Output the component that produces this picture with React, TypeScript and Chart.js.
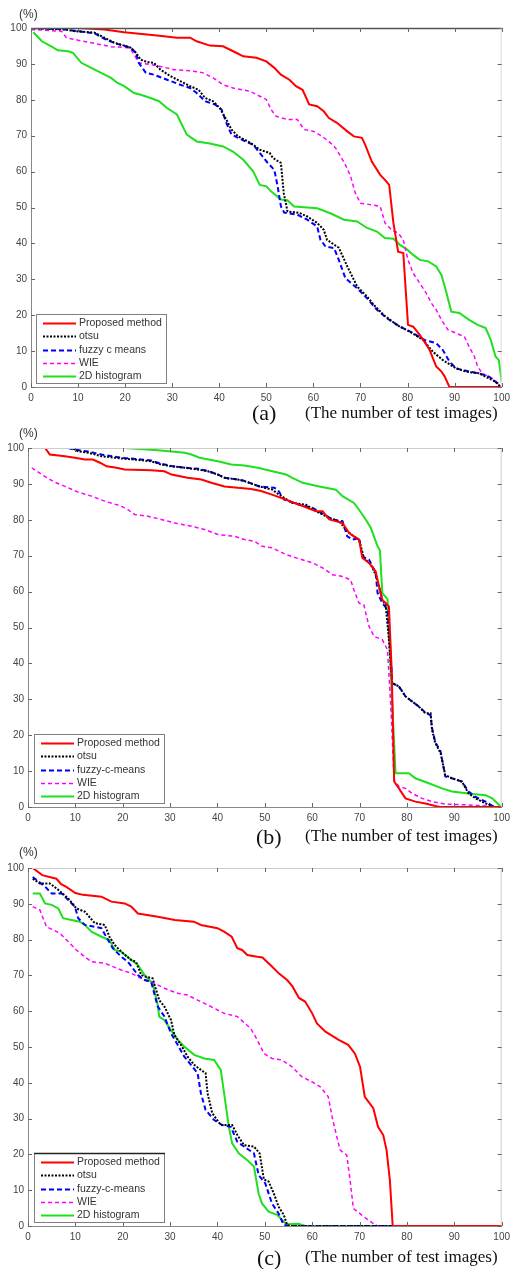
import React, { useEffect, useRef } from 'react';
import { Chart, registerables } from 'chart.js';

Chart.register(...registerables);

type Pt = [number, number];

// ---------- tick values & labels ----------
const xTickValues = [0, 10, 20, 30, 40, 50, 60, 70, 80, 90, 100];
const yTickValues = [0, 10, 20, 30, 40, 50, 60, 70, 80, 90, 100];
const legendLabelsA = ['Proposed method', 'otsu', 'fuzzy c means', 'WIE', '2D histogram'];
const legendLabelsBC = ['Proposed method', 'otsu', 'fuzzy-c-means', 'WIE', '2D histogram'];
const panelTags = ['(a)', '(b)', '(c)'];
const unitLabel = '(%)';
const xCaption = '(The number of test images)';

// ---------- panel (a) ----------
const aProposed: Pt[] = [[0,100],[10,100],[15.6,99.6],[19.8,98.8],[26.8,97.9],[31,97.3],[33.8,97.3],[35.2,96.3],[38,95.1],[40.8,94.9],[43.6,93.1],[45.1,92.1],[47.9,91.7],[50,90.7],[51.7,88.9],[53.1,87],[54.9,85.6],[56.3,83.8],[57.7,82.8],[59.1,78.7],[60.8,78.2],[62.2,76.8],[63.3,74.9],[65,73.6],[67.2,71.2],[68.6,69.8],[70.3,69.4],[71,67.5],[72.4,62.8],[74.2,59.1],[75.2,57.7],[76.1,56.3],[77,45.7],[78,37.7],[79.1,37.3],[80.1,17.3],[81.2,16.8],[82.6,14.5],[83.6,12.6],[84.7,10.3],[86.1,5.7],[87.2,4.3],[87.9,2.9],[88.9,0],[100,0]];
const aOtsu: Pt[] = [[0,100],[7.2,99.6],[9.3,99.1],[13.5,98.7],[15.6,97.3],[17.7,95.9],[19.8,95.1],[21.2,94.5],[22.3,93.1],[23.3,91.2],[24.7,90.5],[26.1,90.3],[27.5,88.4],[29.6,86.6],[31.7,85.2],[33.8,83.8],[35.6,82.8],[37,80.5],[38.7,79.6],[40.1,77.7],[41.5,74.5],[42.6,71.7],[44,69.8],[45.4,68.9],[47.2,67.5],[48.6,66.1],[50.7,65.2],[51.4,63.8],[53.1,62.4],[53.7,54],[54.5,48.9],[57,48.5],[58.7,47.5],[60.8,45.7],[62.2,43.8],[62.9,41],[65,39.1],[65.4,38.8],[67.2,33.6],[69.3,28],[71.4,25.2],[72.8,22.9],[74.9,20.1],[77.7,17.3],[80.5,15.4],[83.3,13.1],[85.4,9.8],[87.5,7.5],[90.3,5.2],[92.4,4.3],[95.2,3.8],[97.3,2.4],[98.7,1.5],[99.8,0]];
const aFuzzy: Pt[] = [[0,100],[7.2,99.6],[10,99.1],[13.5,98.5],[15.9,96.8],[18,95.7],[21.2,94.5],[22.3,93.1],[22.9,90.3],[24.4,87.5],[26.1,87],[28.9,85.6],[31.7,84.2],[33.8,83.3],[35.2,81.9],[37,79.6],[39.1,78.7],[40.5,77.3],[41.5,73.6],[42.6,70.3],[44,69.4],[45.4,68.5],[47.2,67.5],[48.6,65.2],[50.3,62.4],[51.7,60.5],[52.4,55.9],[53.1,50.3],[53.8,48.6],[56.6,48],[58.7,46.6],[60.8,44.7],[61.5,41],[62.6,39.1],[64.4,38.7],[65.4,35.4],[66.8,30.3],[69.3,27.5],[71.4,24.7],[73.5,21.5],[75.6,19.2],[78.4,16.8],[81.2,15],[83.6,13.1],[86.1,12.2],[87.5,10.3],[88.9,7.1],[90.3,5.2],[93.1,4.3],[95.2,3.8],[97.3,2.9],[99.1,1],[99.8,0]];
const aWIE: Pt[] = [[0,99.6],[6.5,99.1],[7.5,97.3],[10,96.6],[13.5,95.7],[17,94.8],[20.5,94.5],[21.5,93.5],[22.9,90.3],[25.4,89.8],[27.5,89.3],[30.3,88.4],[33.8,88.1],[36.6,87.5],[38.7,86.1],[40.8,84.2],[42.9,83.3],[46.5,82.4],[48.6,81],[50,80.1],[51,77.3],[52.1,75.4],[54.5,74.5],[56.6,74.5],[58,71.7],[60.1,71.2],[61.9,69.8],[63.6,68],[64.7,66.6],[65.8,64.2],[66.8,61.9],[67.9,58.7],[68.9,54],[70,51.2],[72.1,50.8],[74.2,50.3],[75.2,45.7],[76.6,43.8],[78,42.9],[79.1,41],[80.1,35.4],[81.2,31.7],[82.6,28.9],[84,26.1],[85.1,23.3],[86.1,21.5],[87.2,18.7],[88.6,15.9],[90.3,15],[92.1,14],[93.1,11.2],[94.2,8.5],[94.9,5.7],[95.9,3.8],[98,2.4],[99.8,0.5]];
const aHist: Pt[] = [[0.5,98.8],[2.3,96.3],[4.4,94.8],[5.7,93.8],[7.9,93.5],[8.9,93.1],[10.7,90.3],[12.8,88.9],[14.9,87.5],[17,86.1],[18.4,84.7],[19.8,83.8],[21.9,81.9],[23.3,81.4],[25.4,80.5],[27.2,79.6],[28.9,77.7],[31,75.9],[33.1,70.3],[35.2,68.4],[38,67.8],[40.8,67],[42.9,65.6],[45.1,63.3],[47.2,60.1],[48.6,56.3],[50,55.9],[51,54.5],[53.1,52.2],[54.5,52],[55.9,50.3],[58.7,50],[60.8,49.8],[63.6,48.4],[66.5,46.6],[69.3,46.1],[71.4,44.3],[73.5,43.3],[75.2,41.5],[77,41.3],[78.4,39.6],[79.8,38.4],[81.2,36.8],[82.6,35.4],[84.4,35],[86.1,33.6],[87.2,31.2],[88.2,26.6],[89.3,21],[91,20.6],[93.1,18.7],[94.9,17.3],[96.6,16.4],[97.7,13.1],[98.7,8.5],[99.4,7.5],[100,1.5]];

// ---------- panel (b) ----------
const bProposed: Pt[] = [[0,100],[3.6,100],[4.6,98.2],[7.8,97.7],[9.9,97.3],[12,96.8],[13.7,96.8],[15.2,95.9],[16.6,94.9],[18.7,94.5],[20.4,94],[26,93.8],[28.8,93.5],[30.3,92.6],[33.7,91.7],[36.6,91.2],[38.7,90.3],[41.5,89.3],[44.3,88.9],[47.1,88.6],[49.2,88],[51.5,87],[54.5,85.6],[58,83.8],[60.8,82.4],[62.2,82.4],[63.6,80.1],[66.4,79.1],[67.8,76.3],[68.8,75.4],[69.9,74.5],[70.6,69.4],[72,68],[73.4,65.6],[74.1,61.5],[74.8,57.7],[75.5,56.8],[76.2,55.9],[76.8,37.3],[77.3,7.1],[78.3,5.2],[79.7,2.4],[81.8,1.5],[83.9,1],[86,0.3],[87,0],[100,0]];
const bOtsu: Pt[] = [[0,100],[9.2,100],[10.6,99.1],[12.7,98.7],[15.5,97.7],[18.3,97.3],[20.4,97],[23.9,96.6],[26,96.3],[28.1,95.4],[30.3,94.9],[33.1,94.5],[35.9,94],[38,93.5],[40.1,92.6],[41.5,91.7],[44.3,91.2],[45.6,90.8],[47.8,89.8],[49.9,88.9],[51.6,88.4],[53,87],[55.8,84.7],[58.7,84.2],[60.8,82.4],[63.6,80.5],[65.7,79.6],[67.4,76.8],[68.8,75.4],[69.9,74.5],[70.9,69.4],[72.4,67.5],[73.4,64.7],[74.1,61.5],[74.8,57.7],[75.5,56.3],[76.2,46.6],[76.9,34.5],[78.3,33.6],[79.7,30.8],[81.1,29.4],[82.5,28],[83.9,26.1],[85,26.1],[85.3,21.5],[86,17.8],[87.1,15],[88.1,8.9],[89.5,8],[91.6,7.1],[93,3.8],[94.5,2.4],[96.6,1],[98,0.3],[98.5,0],[100,0]];
const bFuzzy: Pt[] = [[0,100],[8.5,100],[10,99.5],[12.7,99],[15.5,98.2],[18.3,97.6],[20.4,97.2],[23.9,96.8],[26,96.5],[28.1,95.6],[30.3,95],[33.1,94.5],[35.9,94.2],[38,93.6],[40.1,92.6],[41.5,91.7],[44.3,91.2],[45.6,90.9],[47.8,89.8],[48.8,89.3],[52,88.9],[52.7,88.4],[54.1,85.6],[57.3,84.2],[60.1,83.3],[64.3,80.1],[66.4,79.6],[67.4,75.4],[68.5,74.5],[69.9,74.9],[70.6,69.8],[72,68.9],[73.4,65.2],[73.8,59.6],[74.8,56.8],[75.9,55],[76.6,41.9],[76.9,34.5],[78.3,33.6],[79.7,30.8],[81.1,29.4],[82.5,28],[83.9,26.3],[85,25.5],[85.3,22],[86,18],[87.1,15.5],[88.1,8.5],[89.5,8],[91.6,7.1],[93,4.3],[94.5,2.8],[96.6,1.5],[98,0.3],[98.5,0],[100,0]];
const bWIE: Pt[] = [[0.8,94.5],[2.9,92.6],[5.3,90.7],[7.8,89.3],[10.6,87.7],[13.4,86.6],[16.2,85.2],[19.7,83.8],[21.1,82.8],[22.5,81.5],[25.3,81],[28.1,80.1],[31,79.1],[34.5,78.2],[37.3,77.3],[40.1,75.9],[43.6,75.4],[45.7,74.5],[47.8,74],[49.5,72.6],[51.5,72.2],[54.5,70.3],[56.6,69.4],[60.1,68],[62.2,66.6],[64.3,64.7],[66.4,64.2],[68.1,63.3],[68.8,60.5],[69.9,56.8],[70.9,56.3],[72,50.3],[73.1,47.5],[74.8,46.6],[75.9,43.8],[76.6,28],[77.3,7.5],[78.3,5.7],[79.7,5.2],[81.1,3.8],[83.2,2.4],[85.3,1.5],[88.1,0.8],[92.4,0.6],[96.6,0.3],[98,0],[100,0]];
const bHist: Pt[] = [[0,100],[20.4,100],[27.4,99.4],[33.1,98.7],[34.5,98.2],[36.2,97.3],[40.1,96.3],[42.9,95.4],[45.7,95.1],[48.5,94.5],[51.6,93.5],[54.5,92.6],[55.8,91.7],[58,90.3],[61.5,89.3],[65,88.4],[66.4,86.6],[68.8,84.7],[69.9,82.8],[71.3,80.1],[72.4,77.7],[73.8,72.6],[74.3,71.5],[74.8,59.6],[75.9,57.9],[76.6,37],[77.6,9.4],[80.4,9.4],[81.8,8],[84.6,6.6],[87.4,5.2],[89.5,4.3],[93.8,3.6],[96.6,3.3],[98,2.4],[99.7,0.3]];

// ---------- panel (c) ----------
const cProposed: Pt[] = [[1,100],[3,98],[6,97],[7,95.5],[8,94.8],[10,93],[11.6,92.5],[15.5,92],[17.6,90.6],[20.4,90.1],[21.8,89.2],[23.2,87.3],[27.4,86.4],[31,85.5],[35,85],[36.5,84.1],[40,83.2],[41.4,82.2],[43,80.8],[44.2,77.6],[45.2,77.1],[46.3,75.7],[48.4,75.2],[49.5,75],[51.5,72.5],[53,70.5],[54.7,68.7],[55.8,67],[57.2,63.7],[58.5,62.7],[60,59.4],[61,56.6],[62.8,54.3],[65.6,52],[67.6,50.6],[69,48.2],[70.1,44.5],[71.1,36.1],[72.9,32.9],[73.9,27.7],[75,25.4],[75.7,21.2],[76.4,12.8],[77,0],[100,0]];
const cOtsu: Pt[] = [[1,97],[2.5,95.7],[4.6,95.7],[6.4,93.9],[8.5,91.5],[10.2,88.7],[12,87.8],[14.1,84.6],[16.2,84.1],[17.2,80.8],[18.3,78.5],[19.7,76.6],[21.8,74.3],[22.8,73.8],[23.9,70.1],[24.9,69.6],[26.3,69.2],[27.7,63.1],[28.8,61.3],[30.2,57.5],[30.9,53.4],[32.3,50.6],[33.7,47.3],[35.1,45],[36.5,43.6],[37.5,42.7],[37.9,37.1],[38.9,31.5],[40.7,28.2],[43.1,28.2],[44.2,25.4],[45.6,22.6],[47.7,22.2],[48.9,20.3],[49.8,13],[50.8,12.4],[51.9,9.1],[52.9,5.4],[54,3.1],[54.7,0.3],[55.5,0],[100,0]];
const cFuzzy: Pt[] = [[1,97.5],[3.6,94.8],[5,92.9],[7.1,92.9],[9.9,89.2],[10.6,86],[12,84.1],[15.5,83.2],[16.5,80.8],[17.9,77.6],[19.7,75.2],[21.1,73.8],[23.2,70.1],[24.6,68.7],[26,68.2],[27.4,61.3],[28.8,58.5],[30.2,53.8],[31.6,50.6],[33,47.3],[34.4,45],[35.8,42.7],[36.5,37.1],[37.5,32.4],[39.3,29.6],[41,28.2],[42.8,27.7],[44.2,23.5],[45.6,22.2],[47.7,20.3],[48.7,14.2],[50.1,11.9],[51.5,6.3],[52.9,3.5],[54,0.3],[55,0],[100,0]];
const cWIE: Pt[] = [[1,89.2],[2.5,88.3],[3.9,83.6],[5.3,82.7],[6.7,81.8],[8.5,79.4],[10.2,77.1],[12,75.2],[13.4,73.8],[16.2,73.4],[19.7,71.5],[21.8,70.6],[23.9,69.2],[26,68.2],[28.8,66.4],[31.6,65],[33.7,64.5],[35.8,63.1],[38.6,61.3],[41.4,59.4],[44.2,58.5],[47,55.2],[48.4,52],[49.8,48.2],[51.5,46.8],[53.6,46.4],[55.7,44.5],[57.8,41.7],[59.9,40.3],[61.7,38.9],[63.4,36.1],[64.2,30.5],[65.2,24.9],[65.9,21.2],[67.3,19.8],[68,12.8],[68.7,4.9],[70.4,3.1],[71.8,1.7],[73.3,0.3],[74,0],[100,0]];
const cHist: Pt[] = [[1,92.9],[2.5,92.9],[3.6,90.1],[5,89.7],[6.4,88.7],[7.4,86],[9.2,85.5],[10.9,85],[12,84.1],[13.4,82.2],[15.5,80.8],[17.2,79.9],[18.3,77.1],[19.7,76.6],[21.8,74.3],[23.2,72.9],[24.6,70.1],[26.3,67.8],[27.4,61.7],[27.7,58.5],[28.8,57.5],[30.2,54.7],[31.6,52],[33,50.1],[35.1,47.8],[37.2,46.8],[39.3,46.4],[40.7,43.6],[41.4,37.1],[42.4,27.7],[43.1,23.1],[44.5,20.3],[46.3,18.4],[47.7,16.6],[48.7,9],[49.4,6.3],[50.8,4],[52.6,3.1],[54,1.2],[54.7,0.5],[57.1,0.6],[58.5,0],[100,0]];

// ---------- styles (separate from data) ----------
const seriesStyles = [
  { color: '#ff0000', dash: [] as number[], width: 2 },
  { color: '#000000', dash: [2, 1.5], width: 2 },
  { color: '#0000ff', dash: [5, 3], width: 2 },
  { color: '#ff00ff', dash: [4, 3], width: 1.5 },
  { color: '#1fe01f', dash: [] as number[], width: 2 },
];

const SANS = '"Liberation Sans", Arial, Helvetica, sans-serif';
const SERIF = '"Liberation Serif", "Times New Roman", serif';

const framePlugin = {
  id: 'frame',
  afterDraw(chart: any, _args: any, opts: any) {
    const { ctx, chartArea } = chart;
    const { left, right, top, bottom } = chartArea;
    const xs = chart.scales.x;
    const ys = chart.scales.y;
    ctx.save();
    ctx.setLineDash([]);
    ctx.strokeStyle = opts.topColor;
    ctx.lineWidth = opts.topWidth;
    ctx.beginPath();
    ctx.moveTo(left, top + 0.5);
    ctx.lineTo(right, top + 0.5);
    ctx.stroke();
    ctx.lineWidth = 1;
    ctx.strokeStyle = opts.rightColor;
    ctx.beginPath();
    ctx.moveTo(right - 0.5, top);
    ctx.lineTo(right - 0.5, bottom);
    ctx.stroke();
    // inward ticks
    ctx.strokeStyle = '#666';
    ctx.beginPath();
    for (const v of xTickValues) {
      const px = Math.round(xs.getPixelForValue(v)) + 0.5;
      ctx.moveTo(px, bottom);
      ctx.lineTo(px, bottom - 4);
      ctx.moveTo(px, top);
      ctx.lineTo(px, top + 4);
    }
    for (const v of yTickValues) {
      const py = Math.round(ys.getPixelForValue(v)) + 0.5;
      ctx.moveTo(left, py);
      ctx.lineTo(left + 4, py);
      ctx.moveTo(right, py);
      ctx.lineTo(right - 4, py);
    }
    ctx.stroke();
    // legend box
    const lw = 130;
    const lh = 69;
    const lx = left + opts.legendDx;
    const ly = bottom - 4 - lh;
    ctx.fillStyle = '#ffffff';
    ctx.fillRect(lx, ly, lw, lh);
    ctx.strokeStyle = '#808080';
    ctx.lineWidth = 1;
    ctx.strokeRect(lx + 0.5, ly + 0.5, lw, lh);
    if (opts.legendTopDark) {
      ctx.strokeStyle = '#222';
      ctx.lineWidth = 1.5;
      ctx.beginPath();
      ctx.moveTo(lx, ly + 0.5);
      ctx.lineTo(lx + lw + 1, ly + 0.5);
      ctx.stroke();
    }
    ctx.font = `10.5px ${SANS}`;
    ctx.textBaseline = 'middle';
    ctx.textAlign = 'left';
    chart.data.datasets.forEach((ds: any, i: number) => {
      const cy = Math.round(ly + 9 + i * 13.3) + 0.5;
      ctx.setLineDash(ds.borderDash || []);
      ctx.strokeStyle = ds.borderColor;
      ctx.lineWidth = ds.borderWidth;
      ctx.beginPath();
      ctx.moveTo(lx + 7, cy);
      ctx.lineTo(lx + 40, cy);
      ctx.stroke();
      ctx.setLineDash([]);
      ctx.fillStyle = '#333';
      ctx.fillText(ds.label, lx + 43, cy);
    });
    ctx.restore();
  },
};

type PanelCfg = {
  top: number;
  height: number;
  area: { left: number; top: number; right: number; bottom: number };
  series: Pt[][];
  labels: string[];
  tag: string;
  tagLeft: number;
  tagCy: number;
  capCy: number;
  unitCy: number;
  topColor: string;
  topWidth: number;
  rightColor: string;
  legendDx: number;
  legendTopDark: boolean;
};

const WIDTH = 515;

const panels: PanelCfg[] = [
  {
    top: 0, height: 420,
    area: { left: 31, top: 28, right: 506, bottom: 387 },
    series: [aProposed, aOtsu, aFuzzy, aWIE, aHist],
    labels: legendLabelsA, tag: panelTags[0], tagLeft: 252, tagCy: 413, capCy: 413, unitCy: 14,
    topColor: '#555', topWidth: 1.5, rightColor: '#ddd', legendDx: 5, legendTopDark: false,
  },
  {
    top: 420, height: 420,
    area: { left: 28, top: 28, right: 503, bottom: 387 },
    series: [bProposed, bOtsu, bFuzzy, bWIE, bHist],
    labels: legendLabelsBC, tag: panelTags[1], tagLeft: 256, tagCy: 417, capCy: 416, unitCy: 13,
    topColor: '#ccc', topWidth: 1, rightColor: '#ccc', legendDx: 6, legendTopDark: false,
  },
  {
    top: 840, height: 429,
    area: { left: 28, top: 28, right: 504, bottom: 386 },
    series: [cProposed, cOtsu, cFuzzy, cWIE, cHist],
    labels: legendLabelsBC, tag: panelTags[2], tagLeft: 257, tagCy: 418, capCy: 417, unitCy: 12,
    topColor: '#ccc', topWidth: 1, rightColor: '#ccc', legendDx: 6, legendTopDark: true,
  },
];

function Panel({ cfg }: { cfg: PanelCfg }) {
  const ref = useRef<HTMLCanvasElement | null>(null);
  useEffect(() => {
    if (!ref.current) return;
    const a = cfg.area;
    const chart = new Chart(ref.current, {
      type: 'line',
      data: {
        datasets: cfg.series.map((pts, i) => ({
          label: cfg.labels[i],
          data: pts.map(([x, y]) => ({ x, y })),
          borderColor: seriesStyles[i].color,
          backgroundColor: seriesStyles[i].color,
          borderWidth: seriesStyles[i].width,
          borderDash: seriesStyles[i].dash,
          pointRadius: 0,
          tension: 0,
          fill: false,
        })),
      },
      options: {
        responsive: false,
        animation: false,
        devicePixelRatio: 1,
        layout: { padding: { left: 0, top: a.top, right: WIDTH - a.right, bottom: 0 } },
        plugins: {
          legend: { display: false },
          tooltip: { enabled: false },
          frame: {
            topColor: cfg.topColor,
            topWidth: cfg.topWidth,
            rightColor: cfg.rightColor,
            legendDx: cfg.legendDx,
            legendTopDark: cfg.legendTopDark,
          },
        } as any,
        scales: {
          x: {
            type: 'linear',
            min: 0,
            max: 100,
            grid: { display: false, drawTicks: false },
            border: { display: true, color: '#888', width: 1 },
            ticks: {
              stepSize: 10,
              autoSkip: false,
              maxRotation: 0,
              padding: 5,
              color: '#444',
              font: { family: SANS, size: 10 },
            },
            afterFit: (s: any) => { s.height = cfg.height - a.bottom; },
          },
          y: {
            type: 'linear',
            min: 0,
            max: 100,
            grid: { display: false, drawTicks: false },
            border: { display: true, color: '#888', width: 1 },
            ticks: {
              stepSize: 10,
              autoSkip: false,
              padding: 4,
              color: '#444',
              font: { family: SANS, size: 10 },
            },
            afterFit: (s: any) => { s.width = a.left; },
          },
        },
      },
      plugins: [framePlugin],
    });
    return () => chart.destroy();
  }, [cfg]);

  return (
    <div style={{ position: 'absolute', left: 0, top: cfg.top, width: WIDTH, height: cfg.height }}>
      <canvas ref={ref} width={WIDTH} height={cfg.height} style={{ display: 'block', width: WIDTH, height: cfg.height }} />
      <div style={{ position: 'absolute', left: 19, top: cfg.unitCy - 7, fontFamily: SANS, fontSize: 12, lineHeight: '14px', color: '#333' }}>
        {unitLabel}
      </div>
      <div style={{ position: 'absolute', left: cfg.tagLeft, top: cfg.tagCy - 11, fontFamily: SERIF, fontSize: 22, lineHeight: '22px', color: '#111', whiteSpace: 'nowrap' }}>
        {cfg.tag}
      </div>
      <div style={{ position: 'absolute', left: 305, top: cfg.capCy - 9, fontFamily: SERIF, fontSize: 17, lineHeight: '18px', color: '#111', whiteSpace: 'nowrap' }}>
        {xCaption}
      </div>
    </div>
  );
}

export default function App() {
  return (
    <div style={{ position: 'absolute', left: 0, top: 0, width: WIDTH, height: 1269, background: '#fff', overflow: 'hidden' }}>
      {panels.map((p, i) => (
        <Panel key={i} cfg={p} />
      ))}
    </div>
  );
}
